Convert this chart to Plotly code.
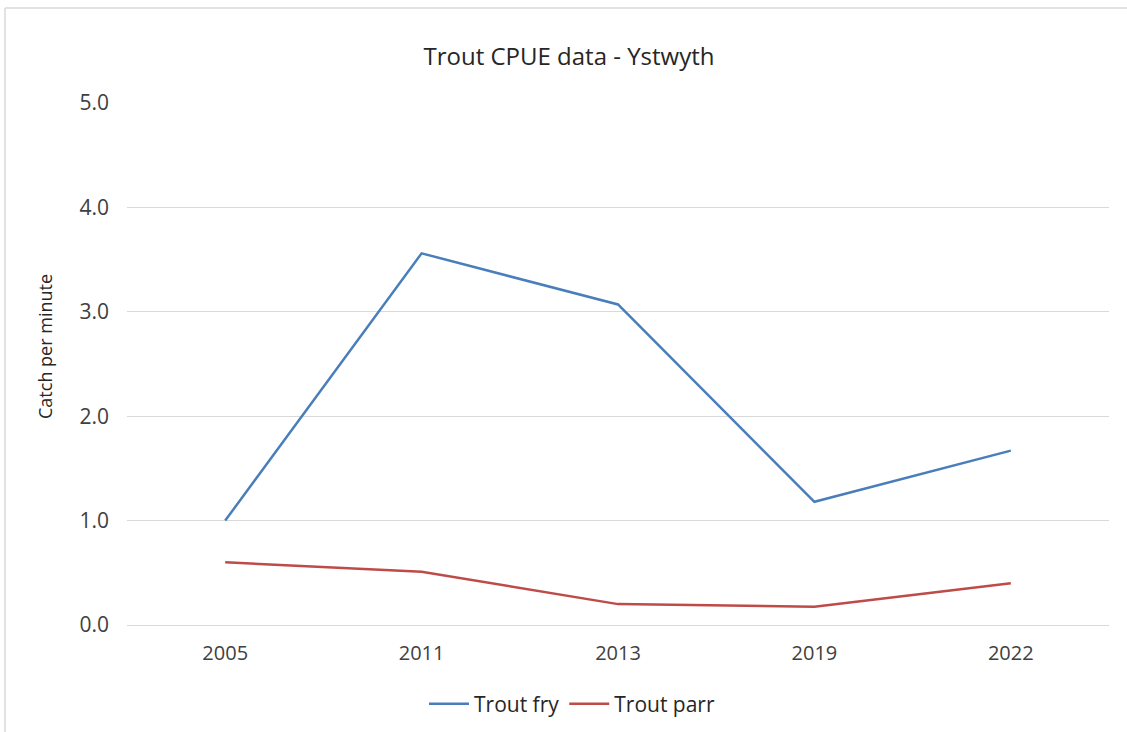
import plotly.graph_objects as go

years = ["2005", "2011", "2013", "2019", "2022"]
trout_fry = [1.00, 3.56, 3.07, 1.18, 1.67]
trout_parr = [0.60, 0.51, 0.20, 0.175, 0.40]

fig = go.Figure()
fig.add_trace(go.Scatter(x=years, y=trout_fry, mode="lines", name="Trout fry",
                         line=dict(color="#4A7EBB", width=2.5)))
fig.add_trace(go.Scatter(x=years, y=trout_parr, mode="lines", name="Trout parr",
                         line=dict(color="#BE4B48", width=2.5)))

W, H = 1127, 732
L, R, T, B = 127, 18, 103, 107
PW, PH = W - L - R, H - T - B

def px(x):
    return (x - L) / PW

def py(y):
    return (H - B - y) / PH

font_family = "Open Sans, DejaVu Sans, sans-serif"
fig.update_layout(
    width=W, height=H,
    margin=dict(l=L, r=R, t=T, b=B, autoexpand=False),
    paper_bgcolor="white", plot_bgcolor="white",
    title=dict(text="Trout CPUE data - Ystwyth", x=569 / W, xanchor="center",
               y=1 - 57 / H, yanchor="middle",
               font=dict(family=font_family, size=24, color="#262626")),
    font=dict(family=font_family, color="#404040"),
    xaxis=dict(type="category", range=[-0.5, 4.5], showgrid=False,
               showline=False, ticks="", ticklabelstandoff=14,
               tickfont=dict(size=20, color="#404040")),
    yaxis=dict(range=[0, 5], dtick=1, tickformat=".1f", showgrid=True,
               gridcolor="#D9D9D9", gridwidth=1, zeroline=True,
               zerolinecolor="#D9D9D9", zerolinewidth=1, ticks="",
               ticklabelstandoff=17,
               tickfont=dict(size=21, color="#404040")),
    legend=dict(orientation="h", xref="container", yref="container",
                x=572 / W, xanchor="center", y=1 - 704 / H, yanchor="middle",
                font=dict(size=21, color="#262626"), itemwidth=40, tracegroupgap=0),
    showlegend=True,
    annotations=[
        dict(text="Catch per minute", xref="paper", yref="paper",
             x=px(45), y=py(347), xanchor="center", yanchor="middle",
             textangle=-90, showarrow=False,
             font=dict(family=font_family, size=18, color="#262626")),
    ],
    shapes=[
        dict(type="line", xref="paper", yref="paper",
             x0=px(5), x1=px(1127), y0=py(8), y1=py(8),
             line=dict(color="#D9D9D9", width=1.5)),
        dict(type="line", xref="paper", yref="paper",
             x0=px(5), x1=px(5), y0=py(8), y1=py(732),
             line=dict(color="#D9D9D9", width=1.5)),
    ],
)

fig.write_html("out.html", config={"displayModeBar": False},
               post_script="document.body.style.margin='0';")
